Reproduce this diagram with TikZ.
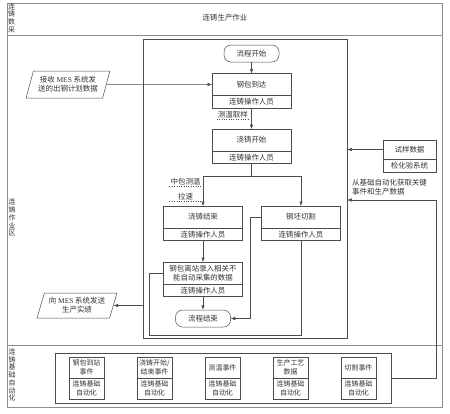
\documentclass[tikz,border=0pt]{standalone}
\usepackage{fontspec}
\setmainfont{Noto Sans CJK SC}
\newfontfamily\latin{Liberation Serif}
\usetikzlibrary{arrows.meta,shapes,positioning}

\begin{document}
\begin{tikzpicture}[x=1bp, y=-1bp, >={Latex[length=4.5bp,width=3.5bp]},
    every node/.style={font=\fontsize{7.5}{9}\selectfont, text=black!80},
    frame/.style={draw=black!45, line width=0.6bp},
    wire/.style={draw=black!70, line width=0.5bp},
    upbox/.style={wire, minimum width=79bp, minimum height=22bp, inner sep=1bp, outer sep=0bp, align=center},
    lowbox/.style={wire, minimum width=79bp, minimum height=12.5bp, inner sep=0bp, outer sep=0bp},
    terminal/.style={wire, rounded corners=7bp, minimum width=55bp, minimum height=17bp},
    io/.style={wire, trapezium, trapezium left angle=70, trapezium right angle=110,
      trapezium stretches=true, align=center, inner sep=1bp},
    autobox/.style={wire, minimum width=35bp, minimum height=21bp, inner sep=0bp, outer sep=0bp,
      align=center, font=\fontsize{7}{8.5}\selectfont},
    note/.style={inner sep=1bp},
    lane/.style={align=center, inner sep=0bp, font=\fontsize{7}{7.8}\selectfont}]
  \useasboundingbox (0,0) rectangle (450,413);

  % swimlanes
  \draw[frame] (7,3) rectangle (442,407);
  \draw[frame] (7,35) -- (442,35);
  \draw[frame] (7,345) -- (442,345);
  \node[lane] (lane-top) at (11.5,18) {连\\铸\\数\\采};
  \node[lane] (lane-mid) at (12,217.5) {连\\铸\\作\\业\\区};
  \node[lane] (lane-low) at (12,375) {连\\铸\\基\\础\\自\\动\\化};
  \node (title) at (225,18) {连铸生产作业};

  \node[wire, minimum width=204bp, minimum height=299bp] (flowarea) at (245,188.5) {};
  \node[wire, minimum width=336bp, minimum height=50bp] (autoarea) at (223,378) {};

  % flow
  \node[terminal] (start) at (251.5,53.5) {流程开始};
  \node[upbox] (arrive) at (251.5,84.5) {钢包到达};
  \node[lowbox, below=0bp of arrive] (arrive-op) {连铸操作人员};
  \node[upbox] (caststart) at (251.5,140) {浇铸开始};
  \node[lowbox, below=0bp of caststart] (caststart-op) {连铸操作人员};
  \node[upbox] (castend) at (203,217) {浇铸结束};
  \node[lowbox, below=0bp of castend] (castend-op) {连铸操作人员};
  \node[upbox] (cut) at (301,217) {钢坯切割};
  \node[lowbox, below=0bp of cut] (cut-op) {连铸操作人员};
  \node[upbox] (leave) at (203,273) {钢包离站录入相关不\\能自动采集的数据};
  \node[lowbox, below=0bp of leave] (leave-op) {连铸操作人员};
  \node[terminal] (finish) at (203,318.5) {流程结束};

  \node[io, minimum width=84bp, minimum height=27bp] (plan) at (68,84.5) {接收 {\latin MES} 系统发\\送的出钢计划数据};
  \node[io, minimum width=80bp, minimum height=25bp] (report) at (77,305.5) {向 {\latin MES} 系统发送\\生产实绩};

  \node[wire, minimum width=53bp, minimum height=19bp, inner sep=0bp, outer sep=0bp] (sample) at (409.5,149.5) {试样数据};
  \node[wire, minimum width=53bp, minimum height=13bp, inner sep=0bp, outer sep=0bp, below=0bp of sample] (sample-sys) {检化验系统};
  \node[note, anchor=north west, align=left] (feedtext) at (351,178) {从基础自动化获取关键\\事件和生产数据};

  \node[note, anchor=east] (temp) at (249,115) {测温取样};
  \node[note] (tundish) at (185.5,182) {中包测温};
  \node[note] (speed) at (185.5,197) {拉速};
  \draw[dotted, black!70] (temp.south west) -- (temp.south east);
  \draw[dotted, black!70] (tundish.south west) -- (tundish.south east);
  \draw[dotted, black!70] (speed.south -| tundish.west) -- (speed.south -| tundish.east);

  % base automation events
  \foreach \name/\up [count=\i from 0] in {arrival/{钢包到站\\事件}, castevt/{浇铸开始/\\结束事件},
      tempevt/测温事件, process/{生产工艺\\数据}, cutevt/切割事件} {
    \node[autobox] (\name) at (86.5+68*\i,367.5) {\up};
    \node[autobox, below=0bp of \name] (\name-base) {连铸基础\\自动化};
  }

  % connectors
  \draw[wire,->] (start) -- (arrive);
  \draw[wire,->] (plan.east) -- (arrive.west);
  \draw[wire,->] (arrive-op) -- (caststart);
  \draw[wire,->] (caststart-op.south) -- ++(0,13) -| (castend.north);
  \draw[wire,->] (caststart-op.south) -- ++(0,13) -| (cut.north);
  \draw[wire,->] (castend-op) -- (leave);
  \draw[wire,->] (leave-op) -- (finish);
  \draw[wire,->] (cut.west) -- ++(-11,0) |- (finish.east);
  \coordinate (loop) at (149,335);
  \draw[wire] (cut-op.south) |- (loop) |- (leave.west);
  \draw[wire,->] (flowarea.west |- report.east) -- (report.east);
  \draw[wire,->] (sample.west) -- (sample.west -| flowarea.east);
  \coordinate (feed) at (436,200);
  \draw[wire,->] (autoarea.east) -| (feed) -- (feed -| flowarea.east);
\end{tikzpicture}
\end{document}
